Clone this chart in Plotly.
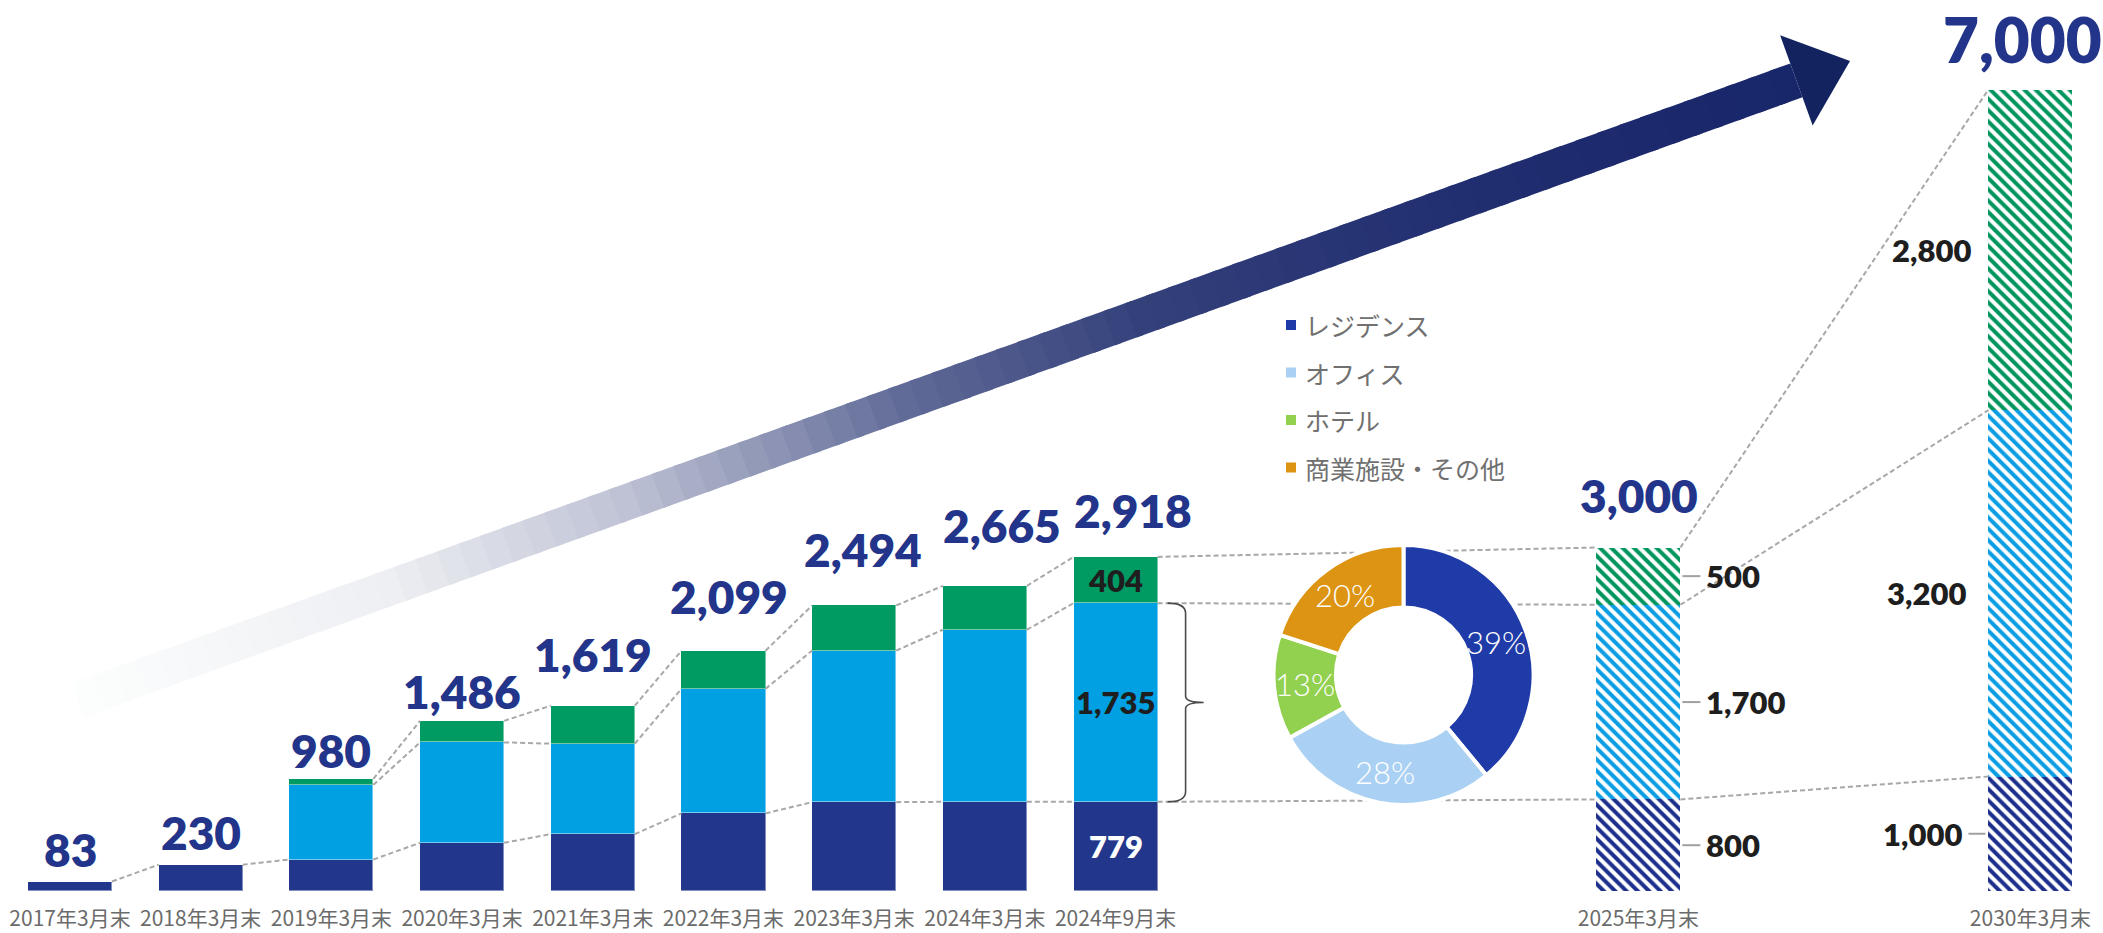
import math
import plotly.graph_objects as go

# ---------------- data ----------------
periods = ["2017年3月末", "2018年3月末", "2019年3月末", "2020年3月末", "2021年3月末",
           "2022年3月末", "2023年3月末", "2024年3月末", "2024年9月末"]
residence = [83, 230, 275, 421, 497, 678, 776, 779, 779]
office = [None, None, 652, 877, 790, 1088, 1324, 1503, 1735]
hotel = [None, None, 53, 188, 332, 333, 394, 383, 404]
totals = [83, 230, 980, 1486, 1619, 2099, 2494, 2665, 2918]

plan_periods = ["2025年3月末", "2030年3月末"]
plan_residence = [800, 1000]
plan_office = [1700, 3200]
plan_hotel = [500, 2800]
plan_totals = [3000, 7000]

mix_labels = ["レジデンス", "オフィス", "ホテル", "商業施設・その他"]
mix_share = [39, 28, 13, 20]

# ---------------- layout constants ----------------
W, H = 2103, 933
BASE_PX = 891                      # pixel row of the zero line
X_RANGE = [-0.5356, 15.555]
Y_RANGE = [0, 7782]
BW = 0.643                         # bar width in slot units
actual_x = list(range(len(periods)))
plan_x = [12, 15]

NAVY = "#22358A"
C_RES, C_OFF, C_HOT = "#22368B", "#00A0E3", "#009A63"
MIX_COLORS = ["#1F3BA8", "#AAD1F3", "#92D050", "#DC9412"]
NUM_FONT = "Lato"
JP_FONT = "Noto Sans CJK JP"


def px_x(px):
    return px / W


def px_y(py):
    return (BASE_PX - py) / BASE_PX


fig = go.Figure()

# ---------------- actual stacked bars ----------------
edge = dict(color="rgba(255,255,255,0.45)", width=1)
for name, vals, col in [("レジデンス", residence, C_RES),
                        ("オフィス", office, C_OFF),
                        ("ホテル", hotel, C_HOT)]:
    fig.add_trace(go.Bar(x=actual_x, y=vals, width=BW, name=name,
                         marker=dict(color=col, line=edge),
                         showlegend=False, hoverinfo="skip"))

# ---------------- planned (hatched) bars ----------------
for name, vals, col in [("レジデンス", plan_residence, "#1C2F8C"),
                        ("オフィス", plan_office, "#0A9DE4"),
                        ("ホテル", plan_hotel, "#00955C")]:
    fig.add_trace(go.Bar(x=plan_x, y=vals, width=BW, name=name,
                         marker=dict(color="white", line=dict(width=0),
                                     pattern=dict(shape="\\", fgcolor=col, bgcolor="white",
                                                  fgopacity=1, size=8, solidity=0.5)),
                         showlegend=False, hoverinfo="skip"))

# ---------------- dashed connectors between segment boundaries ----------------
def levels(r, o, h):
    out = [r]
    if o is not None:
        out.append(r + o)
        out.append(r + o + (h or 0))
    return out


all_x = actual_x + plan_x
all_levels = [levels(r, o, h) for r, o, h in zip(residence, office, hotel)] + \
             [levels(r, o, h) for r, o, h in zip(plan_residence, plan_office, plan_hotel)]
cx, cy = [], []
for k in range(len(all_x) - 1):
    for a, b in zip(all_levels[k], all_levels[k + 1]):
        cx += [all_x[k] + BW / 2, all_x[k + 1] - BW / 2, None]
        cy += [a, b, None]
fig.add_trace(go.Scatter(x=cx, y=cy, mode="lines", showlegend=False, hoverinfo="skip",
                         line=dict(color="#A8A8A8", width=2, dash="5px,3px")))

# ---------------- donut (white disc underneath hides the connectors) ----------------
DONUT_C, DONUT_R, HOLE = (1403.5, 675), 130, 0.52
dom = dict(x=[px_x(DONUT_C[0] - DONUT_R), px_x(DONUT_C[0] + DONUT_R)],
           y=[px_y(DONUT_C[1] + DONUT_R), px_y(DONUT_C[1] - DONUT_R)])
fig.add_trace(go.Pie(values=[1], domain=dom, marker=dict(colors=["white"]),
                     textinfo="none", hoverinfo="skip", showlegend=False, sort=False))
fig.add_trace(go.Pie(labels=mix_labels, values=mix_share, domain=dom, hole=HOLE,
                     sort=False, direction="clockwise", rotation=0,
                     marker=dict(colors=MIX_COLORS, line=dict(color="white", width=4)),
                     textinfo="none", showlegend=False, hoverinfo="skip"))

shapes = []
annotations = []

# percentage labels at the middle of each ring slice
ring_r = DONUT_R * (1 + HOLE) / 2
acc = 0
total_share = sum(mix_share)
for v in mix_share:
    ang = 2 * math.pi * (acc + v / 2) / total_share
    acc += v
    lx = DONUT_C[0] + ring_r * math.sin(ang)
    ly = DONUT_C[1] - ring_r * math.cos(ang)
    annotations.append(dict(xref="paper", yref="paper", x=px_x(lx), y=px_y(ly),
                            xanchor="center", yanchor="middle",
                            text=f"{v}%", showarrow=False,
                            font=dict(family=NUM_FONT, size=31, color="white", weight=300)))

# ---------------- gradient arrow ----------------
TAIL, TIP = (78.0, 700.0), (1850.0, 61.0)
HEAD_LEN, HEAD_HALF, SHAFT_HALF = 57.0, 48.0, 18.0
dx, dy = TIP[0] - TAIL[0], TIP[1] - TAIL[1]
L = (dx * dx + dy * dy) ** 0.5
u = (dx / L, dy / L)
n = (-u[1], u[0])
B = (TIP[0] - u[0] * HEAD_LEN, TIP[1] - u[1] * HEAD_LEN)
stops = [(0.0, (253, 253, 253)), (0.18, (238, 239, 243)), (0.32, (190, 194, 212)),
         (0.48, (97, 107, 152)), (0.62, (52, 64, 122)), (0.80, (33, 46, 112)),
         (1.0, (24, 38, 106))]


def grad(t):
    for (t0, c0), (t1, c1) in zip(stops[:-1], stops[1:]):
        if t <= t1:
            f = (t - t0) / (t1 - t0)
            return "rgb(%d,%d,%d)" % tuple(round(a + (b - a) * f) for a, b in zip(c0, c1))
    return "rgb(%d,%d,%d)" % stops[-1][1]


def path(points):
    return "M " + " L ".join("%.5f,%.5f" % (px_x(x), px_y(y)) for x, y in points) + " Z"


N = 80
for k in range(N):
    t0, t1 = k / N, min(1.0, (k + 1) / N + 0.004)
    p0 = (TAIL[0] + (B[0] - TAIL[0]) * t0, TAIL[1] + (B[1] - TAIL[1]) * t0)
    p1 = (TAIL[0] + (B[0] - TAIL[0]) * t1, TAIL[1] + (B[1] - TAIL[1]) * t1)
    pts = [(p0[0] + n[0] * SHAFT_HALF, p0[1] + n[1] * SHAFT_HALF),
           (p1[0] + n[0] * SHAFT_HALF, p1[1] + n[1] * SHAFT_HALF),
           (p1[0] - n[0] * SHAFT_HALF, p1[1] - n[1] * SHAFT_HALF),
           (p0[0] - n[0] * SHAFT_HALF, p0[1] - n[1] * SHAFT_HALF)]
    col = grad((k + 0.5) / N)
    shapes.append(dict(type="path", xref="paper", yref="paper", path=path(pts),
                       fillcolor=col, line=dict(width=0), layer="below"))
head = [(B[0] + n[0] * HEAD_HALF, B[1] + n[1] * HEAD_HALF), TIP,
        (B[0] - n[0] * HEAD_HALF, B[1] - n[1] * HEAD_HALF)]
shapes.append(dict(type="path", xref="paper", yref="paper", path=path(head),
                   fillcolor="#13235F", line=dict(width=0), layer="below"))

# ---------------- baseline ----------------
shapes.append(dict(type="line", xref="paper", x0=0.002, x1=1, yref="y", ysizemode="pixel",
                   yanchor=0, y0=-1.5, y1=-1.5, line=dict(color="#DADADA", width=3)))

# ---------------- total labels ----------------
label_dy = [32, 32, 28, 29, 51, 54, 56, 60, 46]
label_dx = [0, 0, 0, 0, 0, 6, 9, 17, 17]
for x, t, ddy, ddx in zip(actual_x, totals, label_dy, label_dx):
    annotations.append(dict(x=x, y=t, text=f"{t:,}", showarrow=False, yanchor="middle",
                            xshift=ddx, yshift=ddy,
                            font=dict(family=NUM_FONT, size=46, color=NAVY, weight=800)))
for x, t, ddy, ddx, fs in zip(plan_x, plan_totals, [52, 51], [1, -8], [46, 62]):
    annotations.append(dict(x=x, y=t, text=f"{t:,}", showarrow=False, yanchor="middle",
                            xshift=ddx, yshift=ddy,
                            font=dict(family=NUM_FONT, size=fs, color=NAVY, weight=800)))

# ---------------- segment labels on the latest bar ----------------
i = len(periods) - 1
r, o, h = residence[i], office[i], hotel[i]
for val, mid, col in [(r, r / 2, "white"), (o, r + o / 2, "#1E1E1E"), (h, r + o + h / 2, "#1E1E1E")]:
    annotations.append(dict(x=actual_x[i], y=mid, text=f"{val:,}", showarrow=False,
                            font=dict(family=NUM_FONT, size=31, color=col, weight=800)))

# curly brace spanning the office segment
yb, yt = r, r + o
ym = (yb + yt) / 2
d = 90
brace = (f"M 10,{yt} Q 28,{yt} 28,{yt - d} L 28,{ym + d * 0.6} Q 28,{ym} 46,{ym} "
         f"Q 28,{ym} 28,{ym - d * 0.6} L 28,{yb + d} Q 28,{yb} 10,{yb}")
shapes.append(dict(type="path", xref="x", yref="y", xsizemode="pixel",
                   xanchor=actual_x[i] + BW / 2, path=brace,
                   line=dict(color="#4A4A4A", width=1.6)))

# ---------------- segment labels on planned bars ----------------
def seg_mids(rv, ov, hv):
    return [(rv, rv / 2), (ov, rv + ov / 2), (hv, rv + ov + hv / 2)]


# 2025: labels to the right with short leader ticks
for val, mid in seg_mids(plan_residence[0], plan_office[0], plan_hotel[0]):
    annotations.append(dict(x=plan_x[0] + BW / 2, y=mid, text=f"{val:,}", showarrow=False,
                            xanchor="left", xshift=24,
                            font=dict(family=NUM_FONT, size=31, color="#1E1E1E", weight=800)))
    shapes.append(dict(type="line", xref="x", xsizemode="pixel", xanchor=plan_x[0] + BW / 2,
                       x0=2, x1=20, yref="y", y0=mid, y1=mid,
                       line=dict(color="#A0A0A0", width=2)))

# 2030: labels to the left
for (val, mid), sh, tick in zip(seg_mids(plan_residence[1], plan_office[1], plan_hotel[1]),
                                [-24, -20, -15], [True, False, False]):
    annotations.append(dict(x=plan_x[1] - BW / 2, y=mid, text=f"{val:,}", showarrow=False,
                            xanchor="right", xshift=sh,
                            font=dict(family=NUM_FONT, size=31, color="#1E1E1E", weight=800)))
    if tick:
        shapes.append(dict(type="line", xref="x", xsizemode="pixel", xanchor=plan_x[1] - BW / 2,
                           x0=-20, x1=-3, yref="y", y0=mid, y1=mid,
                           line=dict(color="#A0A0A0", width=2)))

# ---------------- legend for the donut ----------------
LEG_X, LEG_Y0, LEG_STEP = 1291, 325, 47.5
for k, (lab, col) in enumerate(zip(mix_labels, MIX_COLORS)):
    yc = LEG_Y0 + k * LEG_STEP
    shapes.append(dict(type="rect", xref="paper", yref="paper",
                       x0=px_x(LEG_X - 5), x1=px_x(LEG_X + 5),
                       y0=px_y(yc + 5), y1=px_y(yc - 5),
                       fillcolor=col, line=dict(width=0)))
    annotations.append(dict(xref="paper", yref="paper", x=px_x(LEG_X + 12), y=px_y(yc),
                            text=lab, showarrow=False, xanchor="left", yanchor="middle",
                            font=dict(family=JP_FONT, size=25, color="#707070")))

fig.update_layout(
    width=W, height=H, autosize=False,
    margin=dict(l=0, r=0, t=0, b=H - BASE_PX, pad=0),
    paper_bgcolor="white", plot_bgcolor="white",
    barmode="stack", bargap=0,
    shapes=shapes, annotations=annotations,
    xaxis=dict(range=X_RANGE, tickvals=actual_x + plan_x, ticktext=periods + plan_periods,
               tickfont=dict(family=JP_FONT, size=21, color="#6B6B6B"),
               ticklabelstandoff=13,
               showgrid=False, zeroline=False, showline=False, ticks="",
               fixedrange=True, automargin=False),
    yaxis=dict(range=Y_RANGE, visible=False, fixedrange=True, automargin=False),
    showlegend=False,
)

fig.write_html("out.html")
